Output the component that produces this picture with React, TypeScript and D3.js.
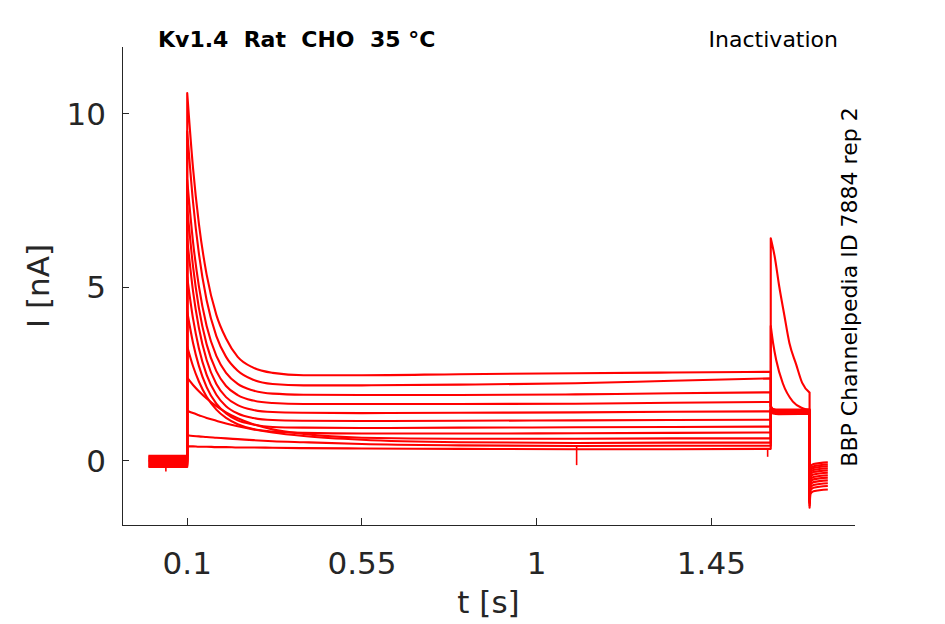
import React from 'react';
import * as d3 from 'd3';

const WIDTH = 945;
const HEIGHT = 624;
const PLOT_LEFT = 122;
const PLOT_RIGHT = 855;
const PLOT_TOP = 47;
const PLOT_BOTTOM = 525;

const xDomain = [-0.068, 1.82];
const yDomain = [-1.845, 11.93];
const xTicks = [0.1, 0.55, 1, 1.45];
const xTickLabels = ['0.1', '0.55', '1', '1.45'];
const yTicks = [0, 5, 10];
const yTickLabels = ['0', '5', '10'];

const titleText = 'Kv1.4  Rat  CHO  35 °C';
const protocolText = 'Inactivation';
const sideText = 'BBP Channelpedia ID 7884 rep 2';
const xLabel = 't [s]';
const yLabel = 'I [nA]';

// holding period (s, nA)
const baselineT = [0, 0.1];
const baselineI = [0.15, 0.12, 0.09, 0.06, 0.03, 0.0, -0.02, -0.05, -0.08, -0.11, -0.14, -0.17];

// prepulse period (s, nA)
const prepulseT = [0.1, 0.115, 0.13, 0.15, 0.175, 0.2, 0.23, 0.27, 0.32, 0.4, 0.55, 0.8, 1.1, 1.35, 1.603];
const prepulseI = [
  [10.6, 8.43, 6.84, 5.37, 4.21, 3.53, 3.0, 2.69, 2.54, 2.47, 2.47, 2.5, 2.53, 2.55, 2.57],
  [9.5, 7.46, 5.98, 4.63, 3.6, 3.0, 2.6, 2.34, 2.22, 2.18, 2.18, 2.2, 2.24, 2.31, 2.38],
  [8.1, 6.31, 5.04, 3.89, 3.03, 2.54, 2.22, 2.03, 1.94, 1.91, 1.9, 1.9, 1.92, 1.95, 1.98],
  [7.3, 5.6, 4.41, 3.36, 2.59, 2.16, 1.9, 1.74, 1.67, 1.64, 1.64, 1.64, 1.65, 1.68, 1.7],
  [6.4, 4.89, 3.84, 2.91, 2.22, 1.84, 1.61, 1.47, 1.41, 1.39, 1.38, 1.39, 1.4, 1.42, 1.43],
  [5.3, 4.1, 3.25, 2.48, 1.91, 1.58, 1.37, 1.24, 1.18, 1.16, 1.15, 1.16, 1.17, 1.18, 1.19],
  [4.3, 3.4, 2.74, 2.13, 1.65, 1.37, 1.17, 1.05, 0.98, 0.96, 0.95, 0.96, 0.97, 0.98, 0.99],
  [3.3, 2.73, 2.29, 1.85, 1.48, 1.24, 1.06, 0.92, 0.85, 0.81, 0.79, 0.79, 0.8, 0.81, 0.82],
  [2.4, 2.19, 2.01, 1.8, 1.58, 1.4, 1.23, 1.06, 0.91, 0.78, 0.67, 0.64, 0.64, 0.65, 0.65],
  [1.45, 1.38, 1.32, 1.24, 1.16, 1.08, 1.0, 0.91, 0.82, 0.72, 0.61, 0.54, 0.52, 0.53, 0.53],
  [0.74, 0.72, 0.71, 0.69, 0.67, 0.65, 0.63, 0.6, 0.57, 0.54, 0.49, 0.45, 0.43, 0.44, 0.44],
  [0.42, 0.42, 0.41, 0.41, 0.4, 0.4, 0.39, 0.39, 0.38, 0.37, 0.36, 0.35, 0.34, 0.34, 0.35],
];

// test pulse, traces that are inactivated (s, nA)
const testFlatT = [1.603, 1.609, 1.623, 1.703];
const testFlatI = [
  [1.58, 1.5, 1.48, 1.49],
  [1.57, 1.48, 1.46, 1.47],
  [1.55, 1.47, 1.45, 1.46],
  [1.54, 1.45, 1.43, 1.44],
  [1.52, 1.44, 1.42, 1.43],
  [1.51, 1.43, 1.41, 1.42],
  [1.5, 1.42, 1.4, 1.41],
  [1.48, 1.4, 1.38, 1.39],
  [1.47, 1.39, 1.37, 1.38],
  [1.45, 1.37, 1.35, 1.36],
];
// test pulse, traces that are still available (traces 11 and 12)
const testPeakT = [
  [1.603, 1.609, 1.617, 1.634, 1.66, 1.685, 1.703],
  [1.603, 1.613, 1.625, 1.638, 1.651, 1.668, 1.684, 1.703],
];
const testPeakI = [
  [3.89, 3.4, 2.91, 2.24, 1.71, 1.52, 1.46],
  [6.42, 5.9, 5.02, 4.2, 3.4, 2.8, 2.25, 1.97],
];

// tail after the test pulse (s, nA)
const tailT = [1.703, 1.7055, 1.713, 1.75];
const tailI = [
  [-1.0, -0.16, -0.09, -0.04],
  [-1.02, -0.22, -0.15, -0.1],
  [-1.05, -0.27, -0.2, -0.15],
  [-1.08, -0.33, -0.26, -0.21],
  [-1.1, -0.39, -0.32, -0.27],
  [-1.12, -0.46, -0.39, -0.34],
  [-1.15, -0.53, -0.46, -0.41],
  [-1.18, -0.6, -0.53, -0.48],
  [-1.2, -0.68, -0.61, -0.56],
  [-1.22, -0.76, -0.69, -0.64],
  [-1.28, -0.84, -0.77, -0.72],
  [-1.35, -0.94, -0.87, -0.82],
];

// short artefact spikes
const spikeT = [0.045, 1.103, 1.595];
const spikeFrom = [-0.17, 0.44, 0.35];
const spikeTo = [-0.3, -0.12, 0.12];

const AXIS_COLOR = '#262626';
const TRACE_COLOR = '#ff0000';
const FONT = '"DejaVu Sans", "Liberation Sans", sans-serif';

export default function App() {
  const x = d3.scaleLinear().domain(xDomain).range([PLOT_LEFT, PLOT_RIGHT]);
  const y = d3.scaleLinear().domain(yDomain).range([PLOT_BOTTOM, PLOT_TOP]);

  const smooth = d3
    .line<[number, number]>()
    .x((d) => x(d[0]))
    .y((d) => y(d[1]))
    .curve(d3.curveMonotoneX);
  const straight = d3
    .line<[number, number]>()
    .x((d) => x(d[0]))
    .y((d) => y(d[1]));

  const zip = (ts: number[], vs: number[]) => ts.map((t, k) => [t, vs[k]] as [number, number]);

  const tracePaths = prepulseI.map((pre, i) => {
    const base = zip(baselineT, baselineI.map(() => baselineI[i]));
    const prep = zip(prepulseT, pre);
    const test =
      i < testFlatI.length
        ? zip(testFlatT, testFlatI[i])
        : zip(testPeakT[i - testFlatI.length], testPeakI[i - testFlatI.length]);
    const tail = zip(tailT, tailI[i]);
    const parts = [straight(base) || '', smooth(prep) || '', smooth(test) || '', smooth(tail) || ''];
    return parts.map((p, k) => (k === 0 ? p : p.replace(/^M/, 'L'))).join('');
  });

  const spikePaths = spikeT.map((t, k) =>
    straight([
      [t, spikeFrom[k]],
      [t, spikeTo[k]],
    ]) || ''
  );

  const tickLen = 7;

  return (
    <svg
      width={WIDTH}
      height={HEIGHT}
      style={{ position: 'absolute', left: 0, top: 0, background: '#fff' }}
      fontFamily={FONT}
    >
      <rect x={0} y={0} width={WIDTH} height={HEIGHT} fill="#fff" />
      {/* traces */}
      <g fill="none" stroke={TRACE_COLOR} strokeWidth={2.1} strokeLinejoin="round">
        {tracePaths.map((d, i) => (
          <path key={i} d={d} />
        ))}
        {spikePaths.map((d, i) => (
          <path key={'s' + i} d={d} strokeWidth={1.6} />
        ))}
      </g>
      {/* axes */}
      <g stroke={AXIS_COLOR} strokeWidth={1} fill="none" shapeRendering="crispEdges">
        <line x1={PLOT_LEFT} x2={PLOT_RIGHT} y1={PLOT_BOTTOM} y2={PLOT_BOTTOM} />
        <line x1={PLOT_LEFT} x2={PLOT_LEFT} y1={PLOT_TOP} y2={PLOT_BOTTOM} />
        {xTicks.map((t) => (
          <line key={'xt' + t} x1={x(t)} x2={x(t)} y1={PLOT_BOTTOM} y2={PLOT_BOTTOM - tickLen} />
        ))}
        {yTicks.map((v) => (
          <line key={'yt' + v} x1={PLOT_LEFT} x2={PLOT_LEFT + tickLen} y1={y(v)} y2={y(v)} />
        ))}
      </g>
      <g fill={AXIS_COLOR} fontSize={31}>
        {xTicks.map((t, k) => (
          <text key={'xl' + t} x={x(t)} y={PLOT_BOTTOM + 49} textAnchor="middle">
            {xTickLabels[k]}
          </text>
        ))}
        {yTicks.map((v, k) => (
          <text key={'yl' + v} x={PLOT_LEFT - 16} y={y(v) + 11} textAnchor="end">
            {yTickLabels[k]}
          </text>
        ))}
        <text x={(PLOT_LEFT + PLOT_RIGHT) / 2} y={PLOT_BOTTOM + 88} textAnchor="middle">
          {xLabel}
        </text>
        <text
          transform={`translate(49, ${(PLOT_TOP + PLOT_BOTTOM) / 2}) rotate(-90)`}
          textAnchor="middle"
        >
          {yLabel}
        </text>
      </g>
      <text x={158} y={47} fontSize={22} fontWeight="bold" fill="#000" style={{ whiteSpace: 'pre' }}>
        {titleText}
      </text>
      <text x={838} y={47} fontSize={22} textAnchor="end" fill="#000">
        {protocolText}
      </text>
      <text
        transform={`translate(857, 287) rotate(-90)`}
        fontSize={22}
        textAnchor="middle"
        fill="#000"
      >
        {sideText}
      </text>
    </svg>
  );
}
